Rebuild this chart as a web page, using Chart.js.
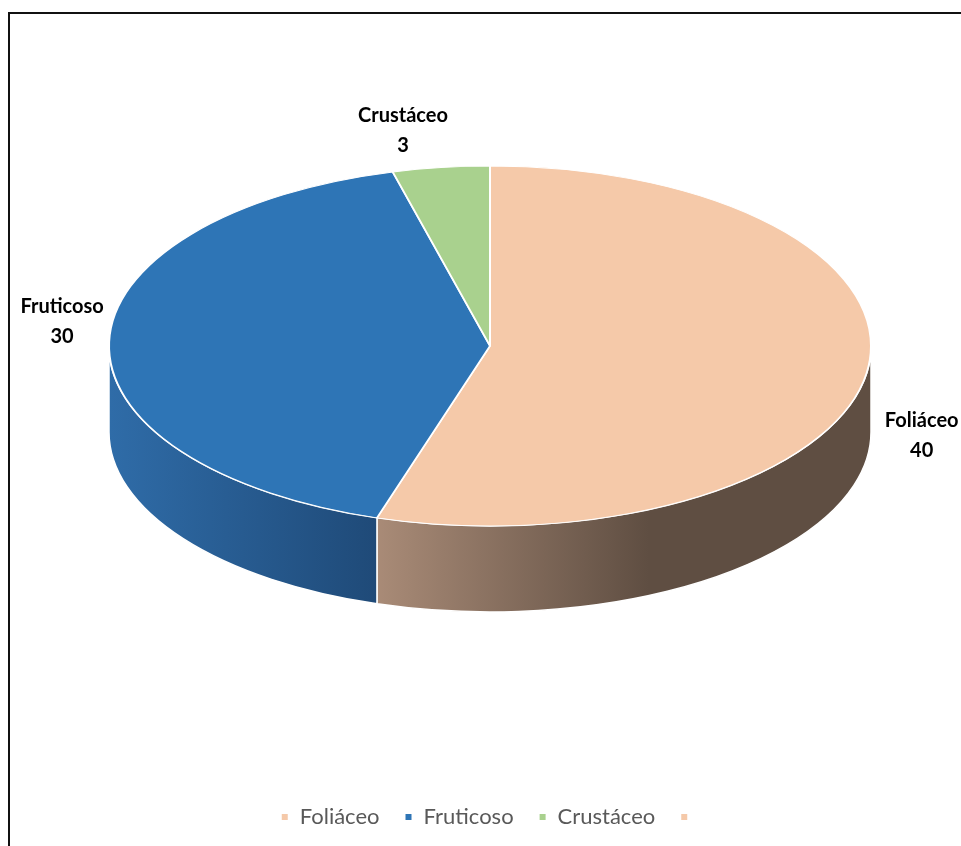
<!DOCTYPE html>
<html>
<head>
<meta charset="utf-8">
<title>Tipos de talo</title>
<script src="https://cdn.jsdelivr.net/npm/chart.js@4.4.0/dist/chart.umd.min.js"></script>
<style>
  html, body { margin: 0; padding: 0; background: #fff; overflow: hidden; }
  #frame { position: absolute; left: 8px; top: 12px; width: 1000px; height: 900px; border: 2px solid #111; }
  #talosChart { position: absolute; left: 0; top: 0; }
</style>
</head>
<body>
<div id="frame"></div>
<canvas id="talosChart" width="961" height="846"></canvas>
<script>
const labels = ['Foliáceo', 'Fruticoso', 'Crustáceo', ''];
const counts = [40, 30, 3, 0];
const topColors = ['#F5C9A9', '#2E75B6', '#A9D18E', '#F5C9A9'];
const sideColors = [['#A98B77', '#5F4E42'], ['#2F6CA8', '#1F4A78'], ['#8DB276', '#6B8C58'], ['#A98B77', '#5F4E42']];

// shift of each value label away from the rim point at the middle of its slice
const labelShift = [[55, 62], [-47, -22], [-38, -38]];

// squashes the pie into an ellipse and paints the front wall under it
const tiltedPie = {
  id: 'tiltedPie',
  beforeDatasetsDraw(chart, args, opts) {
    const arcs = chart.getDatasetMeta(0).data;
    if (!arcs.length) return;
    const ctx = chart.ctx;
    const { x, y, outerRadius: r } = arcs[0];
    const rx = r, ry = r * opts.tilt;
    const cy = chart.chartArea.top + ry;

    arcs.forEach((arc, i) => {
      const s = arc.startAngle, e = arc.endAngle;
      [-2 * Math.PI, 0, 2 * Math.PI].forEach(k => {
        const lo = Math.max(s, k), hi = Math.min(e, k + Math.PI);
        if (hi - lo < 1e-6) return;
        const xl = x + rx * Math.cos(hi), xr = x + rx * Math.cos(lo);
        const grad = ctx.createLinearGradient(xl, 0, Math.max(xr, xl + 1), 0);
        grad.addColorStop(0, sideColors[i][0]);
        grad.addColorStop(i === 0 ? 0.55 : 1, sideColors[i][1]);
        grad.addColorStop(1, sideColors[i][1]);
        ctx.beginPath();
        ctx.ellipse(x, cy, rx, ry, 0, lo, hi);
        ctx.ellipse(x, cy + opts.depth, rx, ry, 0, hi, lo, true);
        ctx.closePath();
        ctx.fillStyle = grad;
        ctx.fill();
        ctx.strokeStyle = '#fff';
        ctx.lineWidth = 1.5;
        ctx.stroke();
      });
    });

    ctx.save();
    ctx.translate(x, cy);
    ctx.scale(1, opts.tilt);
    ctx.translate(-x, -y);
  },
  afterDatasetsDraw(chart, args, opts) {
    const ctx = chart.ctx;
    ctx.restore();
    const arcs = chart.getDatasetMeta(0).data;
    if (!arcs.length) return;
    const { x, outerRadius: r } = arcs[0];
    const ry = r * opts.tilt;
    const cy = chart.chartArea.top + ry;

    ctx.save();
    ctx.font = 'bold 20px Lato';
    ctx.fillStyle = '#000';
    ctx.textAlign = 'center';
    ctx.textBaseline = 'alphabetic';
    arcs.forEach((arc, i) => {
      if (!counts[i]) return;
      const mid = (arc.startAngle + arc.endAngle) / 2;
      const [dx, dy] = labelShift[i];
      const lx = x + r * Math.cos(mid) + dx;
      const ly = cy + ry * Math.sin(mid) + dy;
      ctx.fillText(labels[i], lx, ly - 7.5);
      ctx.fillText(String(counts[i]), lx, ly + 22.5);
    });
    ctx.restore();
  }
};

const ctx = document.getElementById('talosChart').getContext('2d');
const talosChart = new Chart(ctx, {
  type: 'pie',
  data: {
    labels: labels,
    datasets: [{
      data: counts,
      backgroundColor: topColors,
      borderColor: '#fff',
      borderWidth: 2,
      radius: 381
    }]
  },
  options: {
    responsive: false,
    animation: false,
    events: [],
    layout: { padding: { left: 20, right: 1, top: 166, bottom: 8 } },
    plugins: {
      tooltip: { enabled: false },
      legend: {
        position: 'bottom',
        labels: {
          boxWidth: 8,
          boxHeight: 8,
          padding: 25,
          color: '#595959',
          font: { family: 'Lato', size: 22 }
        }
      },
      tiltedPie: { tilt: 0.4724, depth: 86 }
    }
  },
  plugins: [tiltedPie]
});
</script>
</body>
</html>
